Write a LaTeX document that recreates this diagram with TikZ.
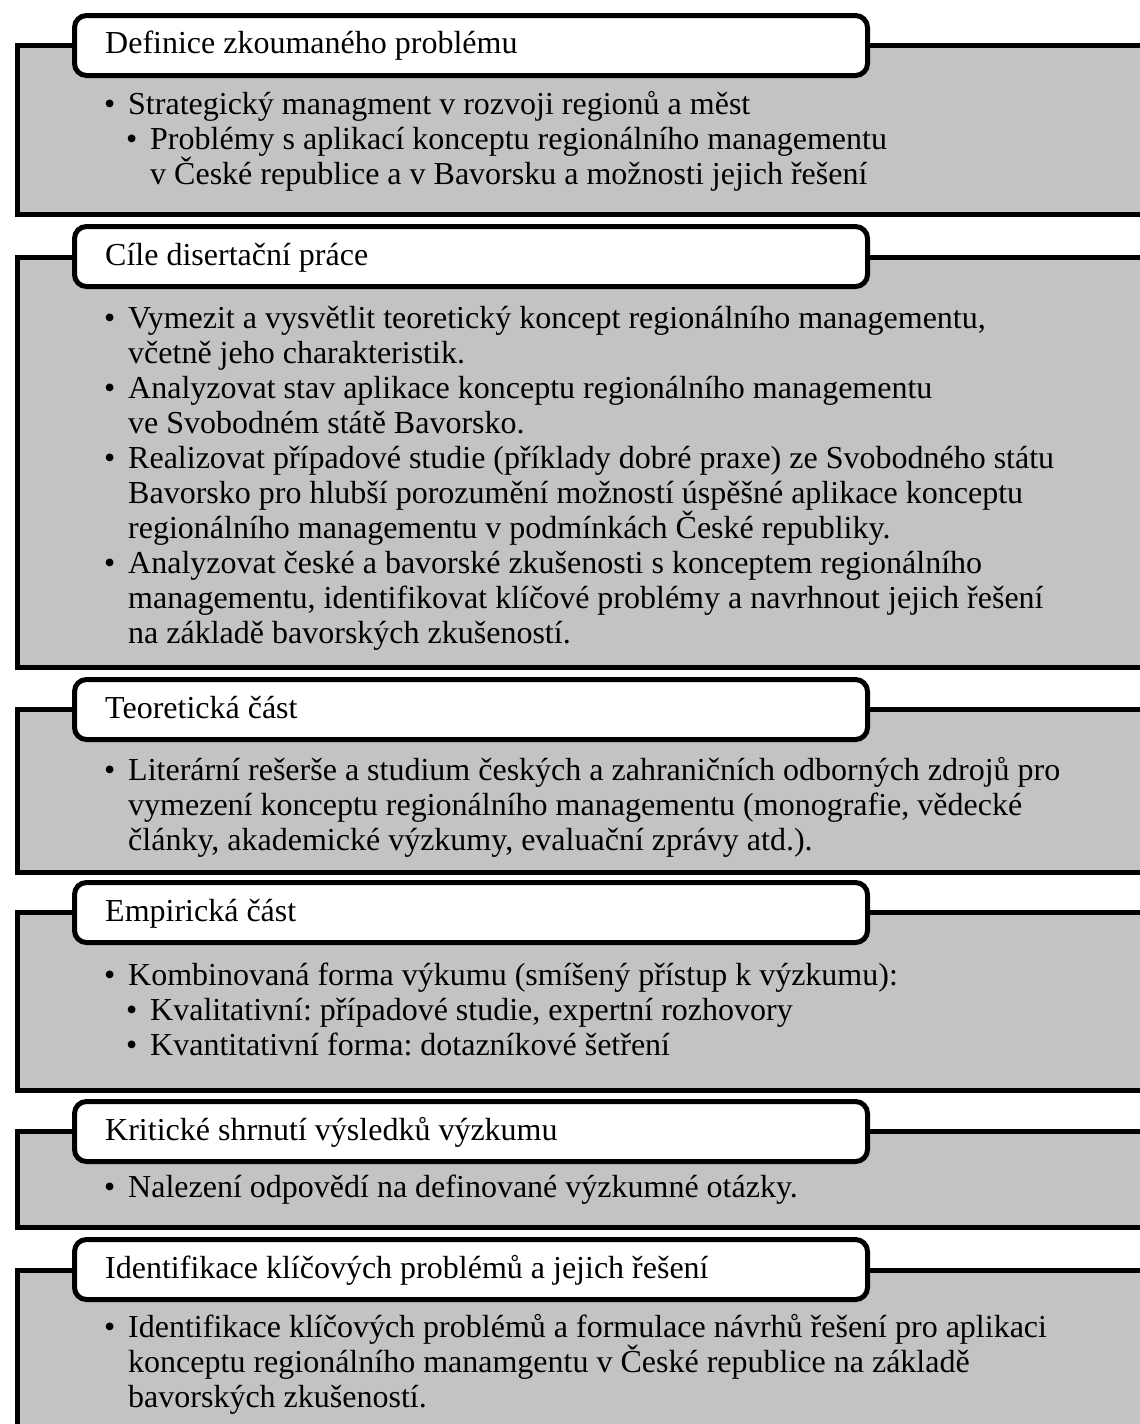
\documentclass[tikz,border=0pt]{standalone}
\usepackage{fontspec}
\setmainfont{Liberation Serif}
\definecolor{panelgray}{RGB}{195,195,195}
\tikzset{
  panel/.style={draw=black, fill=panelgray, line width=5pt, inner sep=0pt,
    anchor=north west, minimum width=1150pt},
  tabbox/.style={draw=black, fill=white, line width=5pt, rounded corners=12pt,
    inner sep=0pt, anchor=north west, minimum width=793pt, minimum height=60pt},
  txt/.style={anchor=base west, inner sep=0pt, font=\fontsize{32}{35}\selectfont\frenchspacing},
  dot/.style={txt},
}
\newcommand{\itemlines}[1]{\parbox[t]{1100pt}{#1}}
\begin{document}
\begin{tikzpicture}[x=1pt,y=-1pt]
\useasboundingbox (0,0) rectangle (1140,1424);
\clip (0,0) rectangle (1140,1424);

% --- Definice zkoumaného problému
\node[panel, minimum height=169pt] (p1) at (15,43) {};
\node[tabbox] (t1) at (72,13) {};
\node[txt] (h1) at (105,53) {Definice zkoumaného problému};
\node[dot] (b11) at (104,114) {\textbullet};
\node[txt] (i11) at (128,114) {\itemlines{Strategický managment v rozvoji regionů a měst}};
\node[dot] (b12) at (126,149) {\textbullet};
\node[txt] (i12) at (150,149) {\itemlines{Problémy s aplikací konceptu regionálního managementu\\
  v České republice a v Bavorsku a možnosti jejich řešení}};

% --- Cíle disertační práce
\node[panel, minimum height=410pt] (p2) at (15,255) {};
\node[tabbox] (t2) at (72,224) {};
\node[txt] (h2) at (105,265) {Cíle disertační práce};
\node[dot] (b21) at (104,328) {\textbullet};
\node[txt] (i21) at (128,328) {\itemlines{Vymezit a vysvětlit teoretický koncept regionálního managementu,\\
  včetně jeho charakteristik.}};
\node[dot] (b22) at (104,398) {\textbullet};
\node[txt] (i22) at (128,398) {\itemlines{Analyzovat stav aplikace konceptu regionálního managementu\\
  ve Svobodném státě Bavorsko.}};
\node[dot] (b23) at (104,468) {\textbullet};
\node[txt] (i23) at (128,468) {\itemlines{Realizovat případové studie (příklady dobré praxe) ze Svobodného státu\\
  Bavorsko pro hlubší porozumění možností úspěšné aplikace konceptu\\
  regionálního managementu v podmínkách České republiky.}};
\node[dot] (b24) at (104,573) {\textbullet};
\node[txt] (i24) at (128,573) {\itemlines{Analyzovat české a bavorské zkušenosti s konceptem regionálního\\
  managementu, identifikovat klíčové problémy a navrhnout jejich řešení\\
  na základě bavorských zkušeností.}};

% --- Teoretická část
\node[panel, minimum height=163pt] (p3) at (15,707) {};
\node[tabbox] (t3) at (72,677) {};
\node[txt] (h3) at (105,718) {Teoretická část};
\node[dot] (b31) at (104,780) {\textbullet};
\node[txt] (i31) at (128,780) {\itemlines{Literární rešerše a studium českých a zahraničních odborných zdrojů pro\\
  vymezení konceptu regionálního managementu (monografie, vědecké\\
  články, akademické výzkumy, evaluační zprávy atd.).}};

% --- Empirická část
\node[panel, minimum height=178pt] (p4) at (15,910) {};
\node[tabbox] (t4) at (72,880) {};
\node[txt] (h4) at (105,921) {Empirická část};
\node[dot] (b41) at (104,985) {\textbullet};
\node[txt] (i41) at (128,985) {\itemlines{Kombinovaná forma výkumu (smíšený přístup k výzkumu):}};
\node[dot] (b42) at (126,1020) {\textbullet};
\node[txt] (i42) at (150,1020) {\itemlines{Kvalitativní: případové studie, expertní rozhovory}};
\node[dot] (b43) at (126,1055) {\textbullet};
\node[txt] (i43) at (150,1055) {\itemlines{Kvantitativní forma: dotazníkové šetření}};

% --- Kritické shrnutí výsledků výzkumu
\node[panel, minimum height=96pt] (p5) at (15,1129) {};
\node[tabbox] (t5) at (72,1099) {};
\node[txt] (h5) at (105,1140) {Kritické shrnutí výsledků výzkumu};
\node[dot] (b51) at (104,1197) {\textbullet};
\node[txt] (i51) at (128,1197) {\itemlines{Nalezení odpovědí na definované výzkumné otázky.}};

% --- Identifikace klíčových problémů a jejich řešení
\node[panel, minimum height=200pt] (p6) at (15,1268) {};
\node[tabbox] (t6) at (72,1237) {};
\node[txt] (h6) at (105,1278) {Identifikace klíčových problémů a jejich řešení};
\node[dot] (b61) at (104,1337) {\textbullet};
\node[txt] (i61) at (128,1337) {\itemlines{Identifikace klíčových problémů a formulace návrhů řešení pro aplikaci\\
  konceptu regionálního manamgentu v České republice na základě\\
  bavorských zkušeností.}};
\end{tikzpicture}
\end{document}
